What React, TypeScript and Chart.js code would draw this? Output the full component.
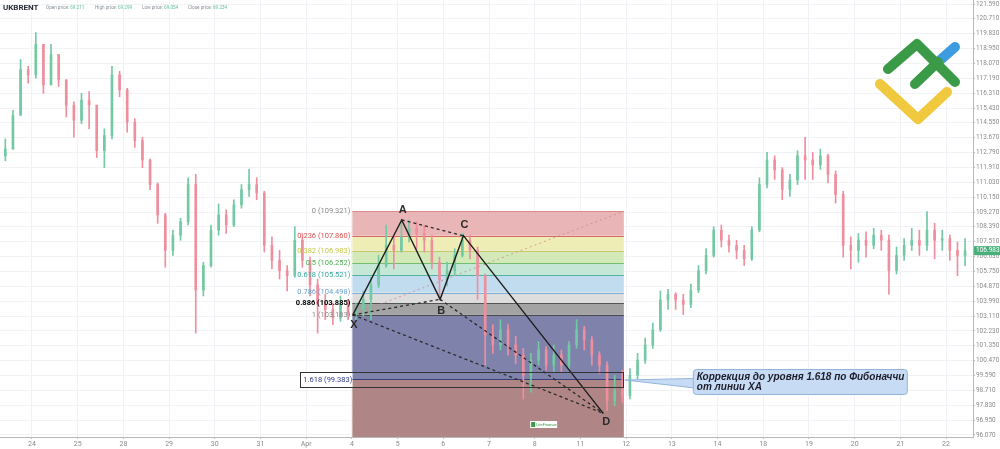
import React, { useEffect, useRef } from 'react';
import { Chart, registerables } from 'chart.js';

Chart.register(...registerables);

// ---------- header ----------
const symbolName = 'UKBRENT';
const headerLabels = ['Open price:', 'High price:', 'Low price:', 'Close price:'];
const headerValues = ['69.211', '69.299', '69.054', '69.234'];

// ---------- axes ----------
const dayLabels = ['24', '25', '28', '29', '30', '31', 'Apr', '4', '5', '6', '7', '8', '11', '12', '13', '14', '18', '19', '20', '21', '22'];
const yTickLabels = ['96.070', '96.950', '97.830', '98.710', '99.590', '100.470', '101.350', '102.230', '103.110', '103.990', '104.870', '105.750', '106.630', '107.510', '108.390', '109.270', '110.150', '111.030', '111.910', '112.790', '113.670', '114.550', '115.430', '116.310', '117.190', '118.070', '118.950', '119.830', '120.710', '121.590'];
const xMin = -0.7;
const xMax = 20.59;
const yMin = 95.948;
const yMax = 121.827;

// ---------- candles (4h bars, 6 per trading day) ----------
const candlesPerDay = 6;
const candlesBeforeFirstDay = 4;
const firstOpen = 112.6;
const closes = [
  113.0, 115.0, 117.7, 117.4, 119.2, 116.8, 118.6, 117.1, 115.6, 114.7,
  115.9, 115.6, 112.9, 113.8, 117.4, 116.5, 114.6, 113.5, 112.35, 110.9,
  109.1, 107.0, 107.9, 108.7, 110.9, 104.65, 106.1, 108.2, 109.1, 108.5,
  109.7, 110.6, 110.9, 110.4, 107.3, 106.4, 105.8, 105.5, 107.6, 106.4,
  104.95, 103.8, 103.5, 103.0, 103.8, 103.2, 103.4, 104.1, 104.95, 106.1,
  107.3, 107.0, 107.8, 108.3, 108.0, 107.6, 106.3, 105.25, 105.8, 106.7,
  107.6, 107.0, 105.5, 101.99, 101.4, 102.3, 101.4, 100.8, 99.6, 100.5,
  101.1, 100.2, 100.8, 100.2, 101.4, 102.3, 101.7, 100.8, 100.2, 98.1,
  98.7, 98.4, 99.6, 100.5, 101.4, 102.3, 104.06, 104.4, 104.06, 103.8,
  104.65, 105.8, 106.7, 108.2, 107.6, 107.3, 107.0, 106.5, 108.2, 110.9,
  112.35, 111.76, 110.6, 111.17, 112.6, 112.35, 112.06, 112.6, 111.5, 110.3,
  107.3, 107.0, 107.6, 107.3, 107.9, 107.6, 105.8, 106.7, 107.3, 107.6,
  107.3, 108.2, 107.6, 107.7, 107.0, 106.7, 106.98,
];
const highs = [
  113.6, 115.3, 118.3, 117.9, 119.9, 119.2, 119.2, 118.6, 117.1, 115.8,
  116.3, 116.4, 115.6, 114.2, 117.9, 117.6, 116.6, 114.8, 113.7, 112.4,
  111.0, 109.2, 108.2, 108.9, 111.3, 111.5, 106.3, 108.5, 109.75, 109.4,
  110.0, 110.9, 111.8, 111.3, 110.5, 107.8, 107.0, 106.1, 108.4, 108.0,
  106.6, 105.3, 104.4, 103.9, 104.3, 104.1, 103.9, 104.6, 105.4, 106.7,
  108.5, 107.8, 108.8, 108.8, 108.7, 108.5, 107.9, 106.6, 106.3, 107.1,
  108.0, 107.9, 107.2, 105.6, 102.6, 102.9, 102.6, 101.9, 101.2, 100.9,
  101.6, 101.3, 101.4, 101.1, 101.6, 102.9, 102.5, 101.9, 101.0, 100.4,
  99.6, 99.9, 100.0, 100.9, 101.8, 102.7, 104.6, 104.7, 104.5, 104.4,
  105.0, 106.1, 107.1, 108.4, 108.5, 107.9, 107.6, 107.3, 108.4, 111.3,
  112.8, 112.6, 111.9, 111.5, 112.9, 113.7, 112.8, 113.0, 112.7, 111.7,
  110.5, 107.8, 108.0, 108.1, 108.3, 108.2, 107.9, 107.2, 107.7, 108.3,
  108.2, 109.3, 108.6, 108.2, 107.9, 107.5, 107.7,
];
const lows = [
  112.3, 113.0, 115.0, 116.9, 117.2, 116.3, 116.8, 116.7, 114.9, 113.7,
  114.5, 114.2, 112.5, 111.9, 113.6, 116.1, 114.0, 113.1, 111.9, 110.6,
  108.6, 106.0, 106.7, 107.6, 108.5, 102.1, 104.3, 106.0, 107.9, 108.0,
  108.4, 109.5, 110.2, 110.0, 106.9, 105.9, 105.3, 104.6, 105.4, 106.0,
  104.3, 102.1, 102.9, 102.6, 102.8, 102.9, 102.9, 103.1, 102.9, 104.8,
  106.0, 105.9, 106.9, 107.5, 107.1, 106.9, 105.9, 104.1, 104.9, 105.5,
  106.6, 106.5, 104.1, 100.2, 100.9, 101.1, 100.8, 100.3, 98.2, 98.6,
  100.2, 99.9, 99.8, 99.8, 100.0, 101.2, 101.1, 100.2, 99.7, 97.5,
  97.8, 98.0, 98.2, 99.4, 100.3, 101.2, 102.2, 103.5, 103.5, 103.2,
  103.6, 104.5, 105.6, 106.6, 107.2, 106.9, 106.5, 106.1, 106.4, 108.1,
  110.7, 111.2, 110.0, 110.2, 110.9, 111.2, 111.2, 111.8, 111.0, 109.8,
  106.6, 105.9, 106.3, 106.6, 107.1, 107.0, 104.4, 105.6, 106.4, 107.0,
  106.7, 107.0, 106.5, 107.0, 106.4, 105.5, 106.1,
];
const lastPrice = 106.983;

// ---------- Fibonacci retracement ----------
const fibRatios = ['0', '0.236', '0.382', '0.5', '0.618', '0.786', '0.886', '1', '1.618', '2.618'];
const fibPrices = [109.321, 107.86, 106.983, 106.252, 105.521, 104.498, 103.885, 103.183, 99.383, 93.245];
const fibStartDay = 7.01;
const fibEndDay = 12.95;
const fibFill = ['#eab5b7', '#efedb6', '#d3eab8', '#c4e7d6', '#c1dcef', '#dddddd', '#a3a3a3', '#7f82ab', '#b08586'];
const fibLine = ['#d98b8b', '#d46b6b', '#c9c76a', '#72bf72', '#52b3a4', '#7cb0dc', '#555555', '#4a4a4a', '#3a3f7a', '#8a5a5a'];
const fibText = ['#8a8a8a', '#d9534f', '#c5c84a', '#4caf50', '#35a89e', '#6a9fd0', '#000000', '#8a8a8a', '#2f3b8f', '#8a8a8a'];

// ---------- harmonic pattern ----------
const patternNames = ['X', 'A', 'B', 'C', 'D'];
const patternDays = [7.02, 8.09, 8.93, 9.44, 12.5];
const patternPrices = [103.18, 108.8, 104.1, 107.87, 97.35];
const patternDotted = [[0, 2], [1, 3], [2, 4], [0, 4]];

// ---------- callout ----------
const calloutLines = ['Коррекция до уровня 1.618 по Фибоначчи', 'от линии XA'];

const upColor = '#72c9a3';
const downColor = '#ef8f9e';

const overlayPlugin = {
  id: 'overlay',
  beforeDatasetsDraw(chart: any) {
    const { ctx, chartArea: a, scales } = chart;
    const x = scales.x;
    const y = scales.y;
    const x0 = x.getPixelForValue(fibStartDay);
    const x1 = x.getPixelForValue(fibEndDay);
    ctx.save();
    ctx.beginPath();
    ctx.rect(a.left, a.top, a.right - a.left, a.bottom - a.top);
    ctx.clip();
    for (let k = 0; k < fibPrices.length - 1; k++) {
      const ya = y.getPixelForValue(fibPrices[k]);
      const yb = y.getPixelForValue(fibPrices[k + 1]);
      ctx.fillStyle = fibFill[k];
      ctx.fillRect(x0, ya, x1 - x0, yb - ya);
    }
    ctx.lineWidth = 1;
    for (let k = 0; k < fibPrices.length; k++) {
      const yy = Math.round(y.getPixelForValue(fibPrices[k])) + 0.5;
      ctx.strokeStyle = fibLine[k];
      ctx.beginPath();
      ctx.moveTo(x0, yy);
      ctx.lineTo(x1, yy);
      ctx.stroke();
    }
    ctx.restore();
  },
  afterDatasetsDraw(chart: any) {
    const { ctx, chartArea: a, scales } = chart;
    const x = scales.x;
    const y = scales.y;
    const x0 = x.getPixelForValue(fibStartDay);
    const x1 = x.getPixelForValue(fibEndDay);
    ctx.save();
    ctx.beginPath();
    ctx.rect(a.left, a.top, a.right - a.left, a.bottom - a.top);
    ctx.clip();
    // fib labels
    ctx.textBaseline = 'middle';
    for (let k = 0; k < 8; k++) {
      const yy = y.getPixelForValue(fibPrices[k]);
      ctx.font = (k === 6 ? 'bold ' : '') + '7.5px Roboto';
      ctx.fillStyle = fibText[k];
      ctx.textAlign = 'right';
      ctx.fillText(`${fibRatios[k]} (${fibPrices[k].toFixed(3)})`, x0 - 2, yy);
    }
    // 1.618 label box
    {
      const yy = y.getPixelForValue(fibPrices[8]);
      const bx = x0 - 52;
      ctx.fillStyle = '#ffffff';
      ctx.fillRect(bx, yy - 6.5, x0 - bx, 15);
      ctx.strokeStyle = '#333333';
      ctx.lineWidth = 1;
      ctx.strokeRect(Math.round(bx) + 0.5, Math.round(yy - 6.5) + 0.5, Math.round(x1 - bx), 15);
      ctx.font = '7.5px Roboto';
      ctx.fillStyle = fibText[8];
      ctx.textAlign = 'left';
      ctx.fillText(`${fibRatios[8]} (${fibPrices[8].toFixed(3)})`, bx + 3, yy + 1);
    }
    // pattern letters
    ctx.font = 'bold 11px "Liberation Sans"';
    ctx.fillStyle = '#2b2b2b';
    ctx.textAlign = 'center';
    const offs = [10, -10, 12, -11, 9];
    for (let k = 0; k < patternNames.length; k++) {
      const px = x.getPixelForValue(patternDays[k]);
      const py = y.getPixelForValue(patternPrices[k]);
      ctx.fillText(patternNames[k], px + (k === 4 ? 3 : 1), py + offs[k]);
    }
    // watermark
    {
      const wx = x.getPixelForValue(10.9);
      const wy = a.bottom - 16;
      ctx.fillStyle = '#ffffff';
      ctx.fillRect(wx, wy, 27, 7);
      ctx.fillStyle = '#3a9a48';
      ctx.fillRect(wx + 1, wy + 1, 4, 5);
      ctx.font = '4px Roboto';
      ctx.textAlign = 'left';
      ctx.fillStyle = '#3a9a48';
      ctx.fillText('LiteFinance', wx + 6, wy + 3.5);
    }
    // callout
    {
      const ax = x1 + 1;
      const ay = y.getPixelForValue(fibPrices[8]) + 1;
      const bx = ax + 68;
      const by = ay - 11;
      const bw = 214;
      const bh = 25;
      ctx.fillStyle = '#c7dcf4';
      ctx.strokeStyle = '#93b4dc';
      ctx.lineWidth = 1;
      ctx.beginPath();
      ctx.moveTo(ax, ay);
      ctx.lineTo(bx + 2, ay - 1.5);
      ctx.lineTo(bx + 2, ay + 8);
      ctx.closePath();
      ctx.fill();
      ctx.stroke();
      ctx.beginPath();
      ctx.roundRect(bx + 0.5, by + 0.5, bw, bh, 3);
      ctx.fill();
      ctx.stroke();
      ctx.fillStyle = '#1c1c2a';
      ctx.font = 'italic bold 10px "Liberation Sans"';
      ctx.textAlign = 'left';
      ctx.textBaseline = 'alphabetic';
      ctx.fillText(calloutLines[0], bx + 4, by + 11);
      ctx.fillText(calloutLines[1], bx + 4, by + 21);
    }
    // logo
    {
      ctx.lineCap = 'round';
      ctx.lineJoin = 'round';
      ctx.lineWidth = 10;
      ctx.strokeStyle = '#f0c93e';
      ctx.beginPath();
      ctx.moveTo(880, 84); ctx.lineTo(918, 119); ctx.lineTo(947, 92);
      ctx.stroke();
      ctx.strokeStyle = '#3d9be0';
      ctx.beginPath();
      ctx.moveTo(938, 62); ctx.lineTo(955, 47);
      ctx.stroke();
      ctx.strokeStyle = '#3a9a48';
      ctx.beginPath();
      ctx.moveTo(888, 69); ctx.lineTo(917, 44); ctx.lineTo(955, 82);
      ctx.stroke();
      ctx.beginPath();
      ctx.moveTo(915, 84); ctx.lineTo(938, 62);
      ctx.stroke();
    }
    ctx.restore();
  },
  afterDraw(chart: any) {
    const { ctx, chartArea: a, scales } = chart;
    const yy = scales.y.getPixelForValue(lastPrice);
    ctx.save();
    ctx.fillStyle = '#47b07a';
    ctx.fillRect(a.right + 1, yy - 4.5, 27, 9);
    ctx.fillStyle = '#ffffff';
    ctx.font = '6.5px Roboto';
    ctx.textAlign = 'left';
    ctx.textBaseline = 'middle';
    ctx.fillText(lastPrice.toFixed(3), a.right + 3, yy);
    ctx.restore();
  },
};

export default function App() {
  const ref = useRef<HTMLCanvasElement | null>(null);

  useEffect(() => {
    if (!ref.current) return;
    const xs = closes.map((_, i) => (i - candlesBeforeFirstDay + 0.5) / candlesPerDay);
    const opens = closes.map((_, i) => (i === 0 ? firstOpen : closes[i - 1]));
    const colors = closes.map((c, i) => (c >= opens[i] ? upColor : downColor));
    const pt = (k: number) => ({ x: patternDays[k], y: patternPrices[k] });

    const datasets: any[] = [
      {
        type: 'bar',
        label: 'wick',
        data: xs.map((xv, i) => ({ x: xv, y: [Math.min(lows[i], opens[i], closes[i]), Math.max(highs[i], opens[i], closes[i])] })),
        backgroundColor: colors,
        grouped: false,
        barThickness: 1,
        maxBarThickness: 1,
        borderWidth: 0,
        order: 5,
      },
      {
        type: 'bar',
        label: 'body',
        data: xs.map((xv, i) => ({ x: xv, y: [opens[i], closes[i]] })),
        backgroundColor: colors,
        grouped: false,
        barThickness: 2,
        maxBarThickness: 2,
        minBarLength: 1,
        borderWidth: 0,
        order: 4,
      },
      {
        type: 'line',
        label: 'fib trend',
        data: [
          { x: fibStartDay, y: fibPrices[7] },
          { x: fibEndDay, y: fibPrices[0] },
        ],
        borderColor: 'rgba(205,130,130,0.75)',
        borderWidth: 1,
        borderDash: [2, 3],
        pointRadius: 0,
        order: 3,
      },
      ...patternDotted.map(([p, q]) => ({
        type: 'line',
        label: 'dotted',
        data: [pt(p), pt(q)],
        borderColor: '#2a2a2a',
        borderWidth: 1.3,
        borderDash: [3, 3],
        pointRadius: 0,
        order: 2,
      })),
      {
        type: 'line',
        label: 'pattern',
        data: patternNames.map((_, k) => pt(k)),
        borderColor: '#1e1e1e',
        borderWidth: 1.4,
        pointRadius: 0,
        tension: 0,
        order: 1,
      },
    ];

    const chart = new Chart(ref.current, {
      type: 'bar',
      data: { datasets },
      plugins: [overlayPlugin],
      options: {
        animation: false,
        responsive: false,
        devicePixelRatio: 1,
        layout: { padding: 0 },
        plugins: { legend: { display: false }, tooltip: { enabled: false } },
        scales: {
          x: {
            type: 'linear',
            min: xMin,
            max: xMax,
            offset: false,
            grid: { offset: false, color: '#f0f2f5', tickLength: 2, tickColor: '#c0c0c0' },
            border: { color: '#b8b8b8' },
            afterBuildTicks: (s: any) => {
              s.ticks = dayLabels.map((_, k) => ({ value: k }));
            },
            afterFit: (s: any) => {
              s.height = 12;
              s.paddingLeft = 0;
              s.paddingRight = 0;
            },
            ticks: {
              autoSkip: false,
              maxRotation: 0,
              padding: 1,
              color: '#8a8a8a',
              font: { family: 'Roboto', size: 7 },
              callback: (_v: any, i: number) => dayLabels[i],
            },
          },
          y: {
            type: 'linear',
            position: 'right',
            min: yMin,
            max: yMax,
            beginAtZero: false,
            grid: { color: '#f0f2f5', tickLength: 2, tickColor: '#bdbdbd' },
            border: { color: '#b8b8b8' },
            afterBuildTicks: (s: any) => {
              s.ticks = yTickLabels.map((t) => ({ value: parseFloat(t) }));
            },
            afterFit: (s: any) => {
              s.width = 27;
              s.paddingTop = 0;
              s.paddingBottom = 0;
            },
            ticks: {
              autoSkip: false,
              padding: 1,
              color: '#8a8a8a',
              font: { family: 'Roboto', size: 6.4 },
              callback: (_v: any, i: number) => yTickLabels[i],
            },
          },
        },
      } as any,
    });
    return () => chart.destroy();
  }, []);

  const headerPos = [46, 95, 142, 188];
  return (
    <div style={{ position: 'fixed', left: 0, top: 0, width: 1000, height: 449, background: '#ffffff', overflow: 'hidden' }}>
      <canvas ref={ref} width={1000} height={449} style={{ display: 'block', width: 1000, height: 449 }} />
      <div style={{ position: 'absolute', left: 3, top: 3, font: 'bold 8px Roboto', color: '#2a2e39', whiteSpace: 'nowrap' }}>{symbolName}</div>
      {headerLabels.map((lab, k) => (
        <div key={lab} style={{ position: 'absolute', left: headerPos[k], top: 5, font: '4.6px Roboto', color: '#8a8f99', whiteSpace: 'nowrap' }}>
          {lab} <span style={{ color: '#5fc29a' }}>{headerValues[k]}</span>
        </div>
      ))}
    </div>
  );
}
